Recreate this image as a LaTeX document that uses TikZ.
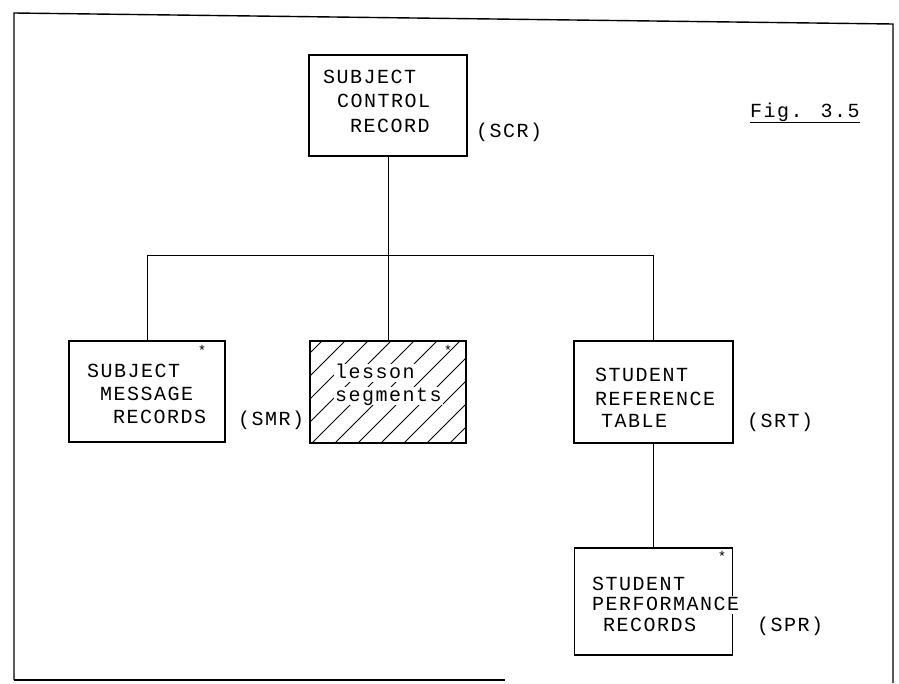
\documentclass[tikz,border=0pt]{standalone}
\usepackage{fontspec}
\setmainfont{Liberation Mono}
\newfontfamily\typewr[LetterSpace=7.5]{Liberation Mono}
\begin{document}
\begin{tikzpicture}[x=1pt,y=-1pt,
  box/.style={draw, line width=1.1pt, inner sep=0pt},
  txt/.style={anchor=west, inner sep=0pt, text height=13pt, text depth=3pt, font=\typewr\fontsize{20}{20}\selectfont},
  conn/.style={line width=0.7pt},
  frame/.style={line width=1.4pt},
  hatch/.style={line width=0.8pt},
  starmark/.style={inner sep=0pt, font=\fontsize{14}{14}\selectfont}]
\useasboundingbox (0,0) rectangle (899,683);
% outer frame
\draw[frame] (14,680) -- (14,13) -- (893,24) -- (893,683);
\draw[frame] (14,680) -- (505,680);
% boxes
\node[box, minimum width=158pt, minimum height=101pt] (scr) at (388,105.5) {};
\node[box, minimum width=156pt, minimum height=101pt] (smr) at (147,391.5) {};
\node[box, minimum width=156pt, minimum height=102pt] (les) at (388,392) {};
\node[box, minimum width=159pt, minimum height=102pt] (srt) at (653.5,392) {};
\node[box, minimum width=158pt, minimum height=107pt] (spr) at (653.5,601.5) {};
% hatching
\begin{scope}
  \clip (les.south west) rectangle (les.north east);
  \foreach \x in {197,220,...,450} \draw[hatch] (\x,443) -- ++(110,-110);
\end{scope}
% connectors
\coordinate (bus) at (388,255);
\draw[conn] (scr.south) -- (les.north);
\draw[conn] (smr.north) -- (smr.north |- bus) -- (srt.north |- bus) -- (srt.north);
\draw[conn] (srt.south) -- (spr.north);
% texts
\node[txt] (scr1) at (323,78) {SUBJECT};
\node[txt] (scr2) at (337,102) {CONTROL};
\node[txt] (scr3) at (350,127) {RECORD};
\node[txt] (scrl) at (476,132) {(SCR)};
\node[txt] (smr1) at (87,372) {SUBJECT};
\node[txt] (smr2) at (100,395) {MESSAGE};
\node[txt] (smr3) at (113,418) {RECORDS};
\node[txt] (smrl) at (238,420) {(SMR)};
\node[txt, fill=white, inner sep=1pt] (les1) at (334,373) {lesson};
\node[txt, fill=white, inner sep=1pt] (les2) at (334,396) {segments};
\node[txt] (srt1) at (595,376) {STUDENT};
\node[txt] (srt2) at (595,400) {REFERENCE};
\node[txt] (srt3) at (601,422) {TABLE};
\node[txt] (srtl) at (747,422) {(SRT)};
\node[txt] (spr1) at (592,585) {STUDENT};
\node[txt, fill=white, inner sep=1pt] (spr2) at (591,605) {PERFORMANCE};
\node[txt] (spr3) at (603,626) {RECORDS};
\node[txt] (sprl) at (757,626) {(SPR)};
\node[txt] (fig) at (750,112) {Fig. 3.5};
\draw[line width=0.9pt] ([yshift=-2pt]fig.south west) -- ([yshift=-2pt]fig.south east);
% marks
\node[starmark] (st1) at (202,350) {*};
\node[starmark] (st2) at (448,350) {*};
\node[starmark] (st3) at (722,556) {*};
\end{tikzpicture}
\end{document}
